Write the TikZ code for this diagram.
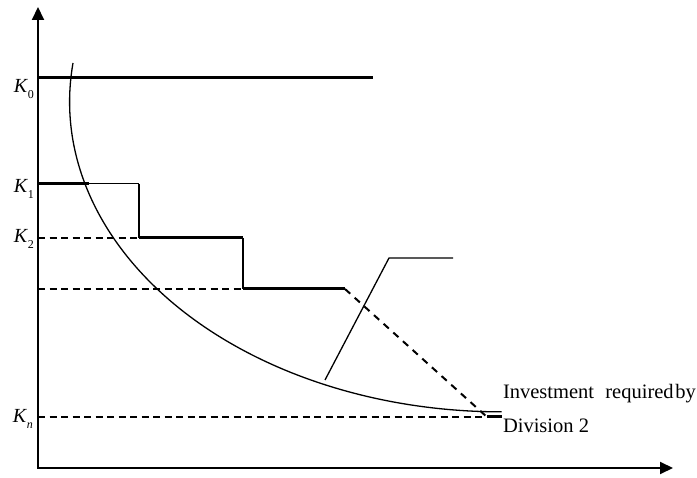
\documentclass[tikz,border=0pt]{standalone}
\usepackage{fontspec}
\setmainfont{Liberation Serif}
\usetikzlibrary{arrows.meta}

\newcommand{\klab}[1]{\textit{K}\raisebox{-6pt}{\fontsize{12}{12}\selectfont #1}}

\begin{document}
\begin{tikzpicture}[x=1pt,y=-1pt,
	axisline/.style={line width=2pt,{Triangle[length=13pt,width=12pt]}-{Triangle[length=13pt,width=12pt]}},
	boldline/.style={line width=3pt},
	stepline/.style={line width=1.7pt},
	fineline/.style={line width=1pt},
	levelline/.style={line width=1.3pt,dash pattern=on 7pt off 4.5pt},
	diagline/.style={line width=2pt,dash pattern=on 7pt off 6pt},
	curveline/.style={line width=1.3pt},
	every node/.style={inner sep=0,outer sep=0,font=\fontsize{20}{24}\selectfont}]
	\useasboundingbox (0,0) rectangle (697,478);
	\coordinate (O) at (38,468);
	\coordinate (ytop) at (38,7);
	\coordinate (xend) at (673,468);
	\coordinate (k0a) at (38,78);
	\coordinate (k0b) at (373,78);
	\coordinate (k1a) at (38,184);
	\coordinate (k1m) at (89,184);
	\coordinate (k1b) at (139,184);
	\coordinate (k2a) at (38,238);
	\coordinate (k2b) at (139,238);
	\coordinate (k2c) at (243,238);
	\coordinate (k3a) at (38,289);
	\coordinate (k3b) at (243,289);
	\coordinate (k3c) at (345,289);
	\coordinate (kna) at (38,417);
	\coordinate (knb) at (487,417);
	\coordinate (knc) at (502,417);
	\coordinate (s1) at (325,380);
	\coordinate (s2) at (389,258);
	\coordinate (s3) at (453,258);
	\coordinate (c0) at (73,63);
	\node (K0) [anchor=base east] at (34,93) {\klab{0}};
	\node (K1) [anchor=base east] at (34,193) {\klab{1}};
	\node (K2) [anchor=base east] at (34,243) {\klab{2}};
	\node (Kn) [anchor=base east] at (33,423) {\klab{\textit{n}}};
	\node (inv) [anchor=base west,font=\fontsize{20.5}{24}\selectfont] at (503,399) {Investment\hspace{0.55em}required\hspace{0.08em}by};
	\node (div) [anchor=base west,font=\fontsize{20.5}{24}\selectfont] at (503,433) {Division 2};
	\draw[axisline] (ytop) -- (O) -- (xend);
	\draw[boldline] (k0a) -- (k0b);
	\draw[boldline] (k1a) -- (k1m);
	\draw[fineline] (k1m) -- (k1b);
	\draw[stepline] (k1b) -- (k2b);
	\draw[levelline] (k2a) -- (k2b);
	\draw[boldline] (k2b) -- (k2c);
	\draw[stepline] (k2c) -- (k3b);
	\draw[levelline] (k3a) -- (k3b);
	\draw[boldline] (k3b) -- (k3c);
	\draw[diagline] (k3c) -- (knb);
	\draw[levelline] (kna) -- (knb);
	\draw[boldline] (knb) -- (knc);
	\draw[curveline] (c0) arc[start angle=187.2, end angle=90, x radius=432, y radius=310];
	\draw[curveline] (s1) -- (s2) -- (s3);
\end{tikzpicture}
\end{document}
